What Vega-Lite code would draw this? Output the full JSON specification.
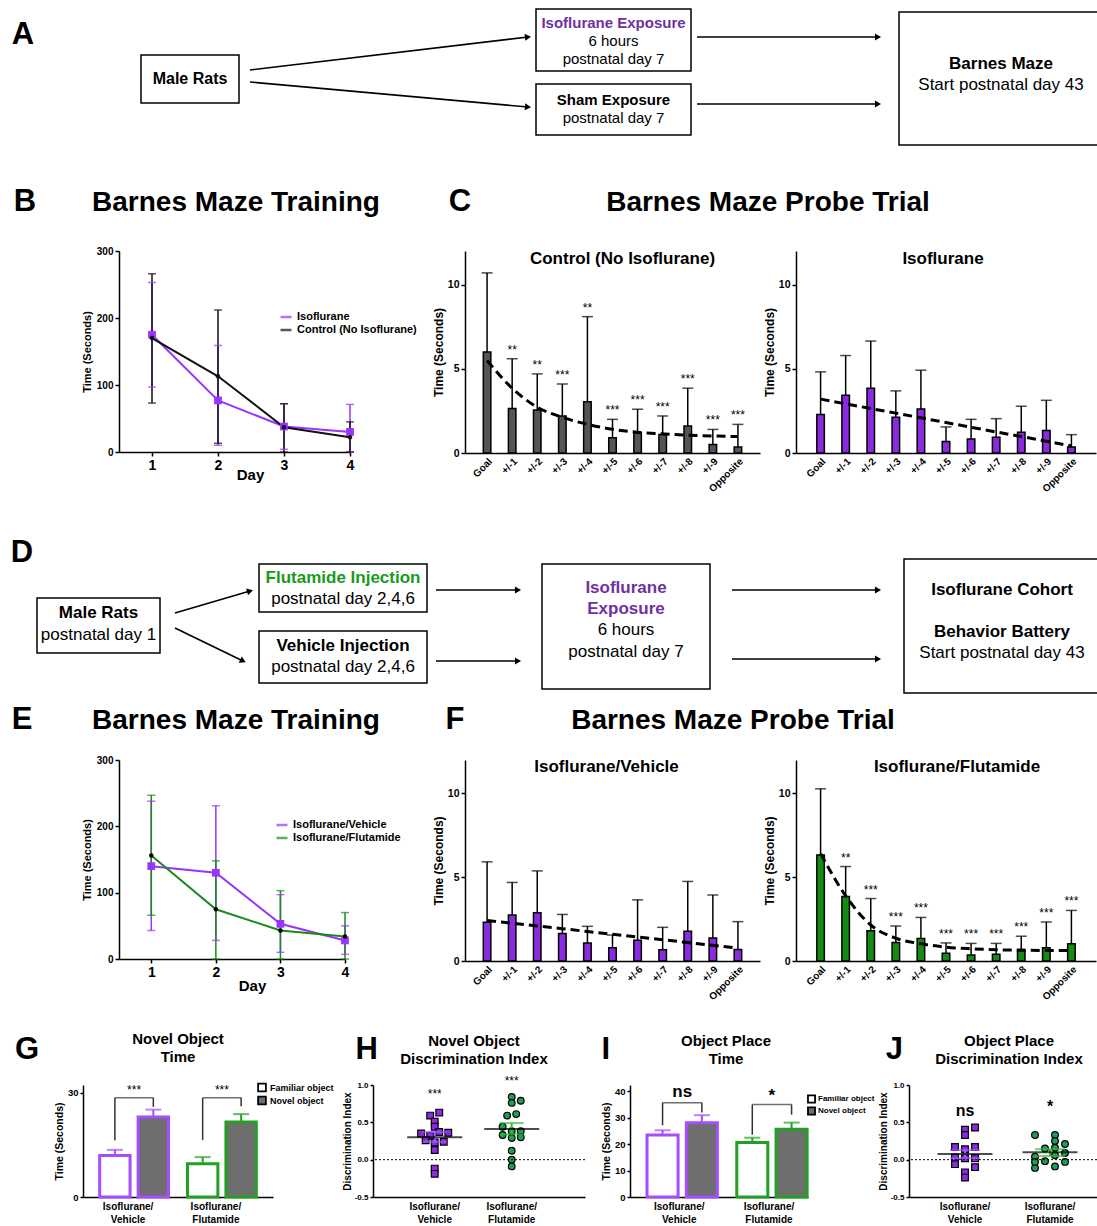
{
"$schema": "https://vega.github.io/schema/vega-lite/v6.json",
"background": "white",
"padding": 0,
"spacing": 0,
"resolve": {"scale": {"color":"independent","fill":"independent","stroke":"independent","shape":"independent","xOffset":"independent"}, "legend": {"color":"independent","fill":"independent","stroke":"independent","shape":"independent"}},
"config": {
  "font": "Liberation Sans",
  "view": {"stroke": null},
  "axis": {"grid": false, "domainColor": "black", "domainWidth": 1.5, "tickColor": "black", "tickWidth": 1.5, "tickSize": 4, "labelColor": "black", "titleColor": "black", "labelFontWeight": "bold", "titleFontWeight": "bold", "labelFlush": false, "labelFont": "Liberation Sans", "titleFont": "Liberation Sans"},
  "title": {"font": "Liberation Sans", "fontWeight": "bold", "color": "black", "frame": "group"},
  "legend": {"labelFont": "Liberation Sans", "labelFontWeight": "bold", "labelColor": "black"},
  "text": {"font": "Liberation Sans", "color": "black"}
},
"datasets": {
  "arrA": [{"x1":250,"y1":70,"x2":528,"y2":37},{"x1":250,"y1":82,"x2":528,"y2":107},{"x1":697,"y1":37,"x2":878,"y2":37},{"x1":697,"y1":104,"x2":878,"y2":104}],
  "arrD": [{"x1":175,"y1":107,"x2":250,"y2":85},{"x1":175,"y1":122,"x2":243,"y2":155},{"x1":436,"y1":84,"x2":518,"y2":84},{"x1":436,"y1":155,"x2":518,"y2":155},{"x1":732,"y1":84,"x2":878,"y2":84},{"x1":732,"y1":153,"x2":878,"y2":153}],
  "bdat": [
    {"day":1,"grp":"Isoflurane","mean":175,"lo":97,"hi":253},
    {"day":2,"grp":"Isoflurane","mean":77,"lo":10,"hi":159},
    {"day":3,"grp":"Isoflurane","mean":38,"lo":4,"hi":72},
    {"day":4,"grp":"Isoflurane","mean":30,"lo":0,"hi":71},
    {"day":1,"grp":"Control (No Isoflurane)","mean":170,"lo":73,"hi":266},
    {"day":2,"grp":"Control (No Isoflurane)","mean":113,"lo":13,"hi":212},
    {"day":3,"grp":"Control (No Isoflurane)","mean":37,"lo":0,"hi":72},
    {"day":4,"grp":"Control (No Isoflurane)","mean":22,"lo":0,"hi":45}
  ],
  "edat": [
    {"day":1,"grp":"Isoflurane/Vehicle","mean":140,"lo":43,"hi":238},
    {"day":2,"grp":"Isoflurane/Vehicle","mean":130,"lo":28,"hi":231},
    {"day":3,"grp":"Isoflurane/Vehicle","mean":53,"lo":10,"hi":97},
    {"day":4,"grp":"Isoflurane/Vehicle","mean":28,"lo":7,"hi":50},
    {"day":1,"grp":"Isoflurane/Flutamide","mean":156,"lo":66,"hi":247},
    {"day":2,"grp":"Isoflurane/Flutamide","mean":75,"lo":0,"hi":148},
    {"day":3,"grp":"Isoflurane/Flutamide","mean":43,"lo":0,"hi":103},
    {"day":4,"grp":"Isoflurane/Flutamide","mean":34,"lo":0,"hi":70}
  ],
  "c1": [
    {"pos":"Goal","mean":6.0,"err":10.7,"fit":5.5,"sig":""},
    {"pos":"+/-1","mean":2.65,"err":5.6,"fit":3.85,"sig":"**"},
    {"pos":"+/-2","mean":2.55,"err":4.7,"fit":2.72,"sig":"**"},
    {"pos":"+/-3","mean":2.2,"err":4.1,"fit":2.12,"sig":"***"},
    {"pos":"+/-4","mean":3.05,"err":8.1,"fit":1.7,"sig":"**"},
    {"pos":"+/-5","mean":0.9,"err":2.0,"fit":1.41,"sig":"***"},
    {"pos":"+/-6","mean":1.2,"err":2.6,"fit":1.23,"sig":"***"},
    {"pos":"+/-7","mean":1.1,"err":2.2,"fit":1.14,"sig":"***"},
    {"pos":"+/-8","mean":1.6,"err":3.85,"fit":1.06,"sig":"***"},
    {"pos":"+/-9","mean":0.5,"err":1.4,"fit":1.01,"sig":"***"},
    {"pos":"Opposite","mean":0.35,"err":1.7,"fit":0.98,"sig":"***"}
  ],
  "c2": [
    {"pos":"Goal","mean":2.28,"err":4.82,"fit":3.2},
    {"pos":"+/-1","mean":3.43,"err":5.79,"fit":2.92},
    {"pos":"+/-2","mean":3.85,"err":6.65,"fit":2.64},
    {"pos":"+/-3","mean":2.12,"err":3.69,"fit":2.37},
    {"pos":"+/-4","mean":2.62,"err":4.92,"fit":2.09},
    {"pos":"+/-5","mean":0.69,"err":1.55,"fit":1.81},
    {"pos":"+/-6","mean":0.83,"err":2.0,"fit":1.53},
    {"pos":"+/-7","mean":0.93,"err":2.04,"fit":1.25},
    {"pos":"+/-8","mean":1.23,"err":2.78,"fit":0.98},
    {"pos":"+/-9","mean":1.33,"err":3.13,"fit":0.7},
    {"pos":"Opposite","mean":0.36,"err":1.09,"fit":0.42}
  ],
  "f1": [
    {"pos":"Goal","mean":2.31,"err":5.92,"fit":2.42},
    {"pos":"+/-1","mean":2.74,"err":4.69,"fit":2.26},
    {"pos":"+/-2","mean":2.88,"err":5.38,"fit":2.09},
    {"pos":"+/-3","mean":1.64,"err":2.78,"fit":1.93},
    {"pos":"+/-4","mean":1.07,"err":2.07,"fit":1.76},
    {"pos":"+/-5","mean":0.79,"err":1.55,"fit":1.6},
    {"pos":"+/-6","mean":1.24,"err":3.65,"fit":1.43},
    {"pos":"+/-7","mean":0.67,"err":2.01,"fit":1.27},
    {"pos":"+/-8","mean":1.78,"err":4.75,"fit":1.1},
    {"pos":"+/-9","mean":1.38,"err":3.94,"fit":0.94},
    {"pos":"Opposite","mean":0.69,"err":2.35,"fit":0.77}
  ],
  "f2": [
    {"pos":"Goal","mean":6.33,"err":10.28,"fit":6.41,"sig":""},
    {"pos":"+/-1","mean":3.85,"err":5.64,"fit":3.89,"sig":"**"},
    {"pos":"+/-2","mean":1.81,"err":3.73,"fit":2.15,"sig":"***"},
    {"pos":"+/-3","mean":1.1,"err":2.09,"fit":1.36,"sig":"***"},
    {"pos":"+/-4","mean":1.34,"err":2.6,"fit":1.03,"sig":"***"},
    {"pos":"+/-5","mean":0.47,"err":1.08,"fit":0.83,"sig":"***"},
    {"pos":"+/-6","mean":0.36,"err":1.05,"fit":0.73,"sig":"***"},
    {"pos":"+/-7","mean":0.41,"err":1.05,"fit":0.67,"sig":"***"},
    {"pos":"+/-8","mean":0.59,"err":1.48,"fit":0.65,"sig":"***"},
    {"pos":"+/-9","mean":0.79,"err":2.33,"fit":0.63,"sig":"***"},
    {"pos":"Opposite","mean":1.03,"err":3.02,"fit":0.63,"sig":"***"}
  ],
  "gbar": [
    {"grp":"Isoflurane/Vehicle","obj":"Familiar object","mean":12.0,"hi":13.6},
    {"grp":"Isoflurane/Vehicle","obj":"Novel object","mean":23.1,"hi":25.2},
    {"grp":"Isoflurane/Flutamide","obj":"Familiar object","mean":9.6,"hi":11.5},
    {"grp":"Isoflurane/Flutamide","obj":"Novel object","mean":21.6,"hi":23.9}
  ],
  "gleg": [
    {"grp":"Isoflurane/Vehicle","obj":"Familiar object","lo":16.4,"top":28.6},
    {"grp":"Isoflurane/Vehicle","obj":"Novel object","lo":26.0,"top":28.6},
    {"grp":"Isoflurane/Flutamide","obj":"Familiar object","lo":16.4,"top":28.6},
    {"grp":"Isoflurane/Flutamide","obj":"Novel object","lo":26.2,"top":28.6}
  ],
  "gtop": [
    {"grp":"Isoflurane/Vehicle","top":28.6,"sy":30.9,"sig":"***"},
    {"grp":"Isoflurane/Flutamide","top":28.6,"sy":30.9,"sig":"***"}
  ],
  "ibar": [
    {"grp":"Isoflurane/Vehicle","obj":"Familiar object","mean":23.4,"hi":25.2},
    {"grp":"Isoflurane/Vehicle","obj":"Novel object","mean":28.0,"hi":30.9},
    {"grp":"Isoflurane/Flutamide","obj":"Familiar object","mean":20.6,"hi":22.4},
    {"grp":"Isoflurane/Flutamide","obj":"Novel object","mean":25.6,"hi":28.1}
  ],
  "ileg": [
    {"grp":"Isoflurane/Vehicle","obj":"Familiar object","lo":27.1,"top":35.6},
    {"grp":"Isoflurane/Vehicle","obj":"Novel object","lo":31.9,"top":35.6},
    {"grp":"Isoflurane/Flutamide","obj":"Familiar object","lo":23.5,"top":34.9},
    {"grp":"Isoflurane/Flutamide","obj":"Novel object","lo":31.1,"top":34.9}
  ],
  "itop": [
    {"grp":"Isoflurane/Vehicle","top":35.6,"sy":39.6,"sig":"ns"},
    {"grp":"Isoflurane/Flutamide","top":34.9,"sy":38.0,"sig":"*"}
  ],
  "hpts": [
    {"grp":"Isoflurane/Vehicle","slot":1,"v":0.63},{"grp":"Isoflurane/Vehicle","slot":-1,"v":0.59},{"grp":"Isoflurane/Vehicle","slot":0,"v":0.51},{"grp":"Isoflurane/Vehicle","slot":0,"v":0.44},{"grp":"Isoflurane/Vehicle","slot":-3,"v":0.35},{"grp":"Isoflurane/Vehicle","slot":3,"v":0.36},{"grp":"Isoflurane/Vehicle","slot":1,"v":0.37},{"grp":"Isoflurane/Vehicle","slot":-1,"v":0.32},{"grp":"Isoflurane/Vehicle","slot":-2,"v":0.26},{"grp":"Isoflurane/Vehicle","slot":2,"v":0.24},{"grp":"Isoflurane/Vehicle","slot":0,"v":0.23},{"grp":"Isoflurane/Vehicle","slot":0,"v":0.13},{"grp":"Isoflurane/Vehicle","slot":0,"v":-0.12},{"grp":"Isoflurane/Vehicle","slot":0,"v":-0.19},
    {"grp":"Isoflurane/Flutamide","slot":0,"v":0.84},{"grp":"Isoflurane/Flutamide","slot":0,"v":0.76},{"grp":"Isoflurane/Flutamide","slot":2,"v":0.79},{"grp":"Isoflurane/Flutamide","slot":-1,"v":0.59},{"grp":"Isoflurane/Flutamide","slot":1,"v":0.61},{"grp":"Isoflurane/Flutamide","slot":-2,"v":0.44},{"grp":"Isoflurane/Flutamide","slot":0,"v":0.38},{"grp":"Isoflurane/Flutamide","slot":2,"v":0.38},{"grp":"Isoflurane/Flutamide","slot":-2,"v":0.33},{"grp":"Isoflurane/Flutamide","slot":2,"v":0.3},{"grp":"Isoflurane/Flutamide","slot":0,"v":0.29},{"grp":"Isoflurane/Flutamide","slot":0,"v":0.12},{"grp":"Isoflurane/Flutamide","slot":0,"v":0.0},{"grp":"Isoflurane/Flutamide","slot":0,"v":-0.09}
  ],
  "hsum": [
    {"grp":"Isoflurane/Vehicle","mean":0.30,"lo":0.24,"hi":0.37,"sy":0.875,"sig":"***"},
    {"grp":"Isoflurane/Flutamide","mean":0.41,"lo":0.34,"hi":0.49,"sy":1.055,"sig":"***"}
  ],
  "jpts": [
    {"grp":"Isoflurane/Vehicle","slot":2,"v":0.43},{"grp":"Isoflurane/Vehicle","slot":0,"v":0.40},{"grp":"Isoflurane/Vehicle","slot":0,"v":0.33},{"grp":"Isoflurane/Vehicle","slot":-2,"v":0.17},{"grp":"Isoflurane/Vehicle","slot":2,"v":0.17},{"grp":"Isoflurane/Vehicle","slot":0,"v":0.14},{"grp":"Isoflurane/Vehicle","slot":-2,"v":0.03},{"grp":"Isoflurane/Vehicle","slot":0,"v":0.02},{"grp":"Isoflurane/Vehicle","slot":2,"v":0.02},{"grp":"Isoflurane/Vehicle","slot":-2,"v":-0.06},{"grp":"Isoflurane/Vehicle","slot":2,"v":-0.10},{"grp":"Isoflurane/Vehicle","slot":0,"v":-0.17},{"grp":"Isoflurane/Vehicle","slot":0,"v":-0.24},
    {"grp":"Isoflurane/Flutamide","slot":-3,"v":0.33},{"grp":"Isoflurane/Flutamide","slot":1,"v":0.33},{"grp":"Isoflurane/Flutamide","slot":1,"v":0.25},{"grp":"Isoflurane/Flutamide","slot":-1,"v":0.15},{"grp":"Isoflurane/Flutamide","slot":3,"v":0.21},{"grp":"Isoflurane/Flutamide","slot":1,"v":0.16},{"grp":"Isoflurane/Flutamide","slot":-3,"v":0.04},{"grp":"Isoflurane/Flutamide","slot":3,"v":0.09},{"grp":"Isoflurane/Flutamide","slot":1,"v":0.06},{"grp":"Isoflurane/Flutamide","slot":-1,"v":-0.02},{"grp":"Isoflurane/Flutamide","slot":-3,"v":-0.11},{"grp":"Isoflurane/Flutamide","slot":1,"v":-0.09},{"grp":"Isoflurane/Flutamide","slot":3,"v":-0.03},{"grp":"Isoflurane/Flutamide","slot":-3,"v":-0.03}
  ],
  "jsum": [
    {"grp":"Isoflurane/Vehicle","mean":0.075,"lo":0.02,"hi":0.13,"sy":0.65,"sig":"ns"},
    {"grp":"Isoflurane/Flutamide","mean":0.10,"lo":0.05,"hi":0.14,"sy":0.70,"sig":"*"}
  ]
},
"vconcat": [
 {
  "width": 1097, "height": 245,
  "layer": [
   {"data": {"values": [{"x1":141,"y1":55,"x2":239,"y2":103},{"x1":536,"y1":9,"x2":691,"y2":71},{"x1":536,"y1":84,"x2":691,"y2":135},{"x1":899,"y1":12,"x2":1110,"y2":145}]},
    "mark": {"type":"rect","fill":"white","stroke":"black","strokeWidth":1.5,"clip":true},
    "encoding": {"x":{"field":"x1","type":"quantitative","scale":{"domain":[0,1097],"nice":false,"zero":false},"axis":null},"x2":{"field":"x2"},"y":{"field":"y1","type":"quantitative","scale":{"domain":[0,245],"nice":false,"zero":false,"reverse":true},"axis":null},"y2":{"field":"y2"}}},
   {"data": {"name":"arrA"},
    "mark": {"type":"rule","color":"black","strokeWidth":1.6},
    "encoding": {"x":{"field":"x1","type":"quantitative","scale":{"domain":[0,1097],"nice":false,"zero":false},"axis":null},"x2":{"field":"x2"},"y":{"field":"y1","type":"quantitative","scale":{"domain":[0,245],"nice":false,"zero":false,"reverse":true},"axis":null},"y2":{"field":"y2"}}},
   {"data": {"name":"arrA"},
    "mark": {"type":"point","shape":"triangle-right","filled":true,"color":"black","opacity":1,"size":50,"angle":{"expr":"atan2(datum.y2 - datum.y1, datum.x2 - datum.x1) * 180 / PI"}},
    "encoding": {"x":{"field":"x2","type":"quantitative","scale":{"domain":[0,1097],"nice":false,"zero":false},"axis":null},"y":{"field":"y2","type":"quantitative","scale":{"domain":[0,245],"nice":false,"zero":false,"reverse":true},"axis":null}}},
   {"data": {"values": [{"x":190,"y":79,"t":"Male Rats"}]},
    "mark": {"type":"text","fontSize":16,"fontWeight":"bold","align":"center","baseline":"middle"},
    "encoding": {"x":{"field":"x","type":"quantitative","scale":{"domain":[0,1097],"nice":false,"zero":false},"axis":null},"y":{"field":"y","type":"quantitative","scale":{"domain":[0,245],"nice":false,"zero":false,"reverse":true},"axis":null},"text":{"field":"t"}}},
   {"data": {"values": [{"x":613.5,"y":100,"t":"Sham Exposure"}]},
    "mark": {"type":"text","fontSize":15,"fontWeight":"bold","align":"center","baseline":"middle"},
    "encoding": {"x":{"field":"x","type":"quantitative","scale":{"domain":[0,1097],"nice":false,"zero":false},"axis":null},"y":{"field":"y","type":"quantitative","scale":{"domain":[0,245],"nice":false,"zero":false,"reverse":true},"axis":null},"text":{"field":"t"}}},
   {"data": {"values": [{"x":613.5,"y":23,"t":"Isoflurane Exposure"}]},
    "mark": {"type":"text","fontSize":15,"fontWeight":"bold","align":"center","baseline":"middle","color":"#7030a0"},
    "encoding": {"x":{"field":"x","type":"quantitative","scale":{"domain":[0,1097],"nice":false,"zero":false},"axis":null},"y":{"field":"y","type":"quantitative","scale":{"domain":[0,245],"nice":false,"zero":false,"reverse":true},"axis":null},"text":{"field":"t"}}},
   {"data": {"values": [{"x":613.5,"y":41,"t":"6 hours"},{"x":613.5,"y":59,"t":"postnatal day 7"},{"x":613.5,"y":118,"t":"postnatal day 7"}]},
    "mark": {"type":"text","fontSize":15,"align":"center","baseline":"middle"},
    "encoding": {"x":{"field":"x","type":"quantitative","scale":{"domain":[0,1097],"nice":false,"zero":false},"axis":null},"y":{"field":"y","type":"quantitative","scale":{"domain":[0,245],"nice":false,"zero":false,"reverse":true},"axis":null},"text":{"field":"t"}}},
   {"data": {"values": [{"x":1001,"y":64,"t":"Barnes Maze"}]},
    "mark": {"type":"text","fontSize":17,"fontWeight":"bold","align":"center","baseline":"middle"},
    "encoding": {"x":{"field":"x","type":"quantitative","scale":{"domain":[0,1097],"nice":false,"zero":false},"axis":null},"y":{"field":"y","type":"quantitative","scale":{"domain":[0,245],"nice":false,"zero":false,"reverse":true},"axis":null},"text":{"field":"t"}}},
   {"data": {"values": [{"x":1001,"y":85,"t":"Start postnatal day 43"}]},
    "mark": {"type":"text","fontSize":17,"align":"center","baseline":"middle"},
    "encoding": {"x":{"field":"x","type":"quantitative","scale":{"domain":[0,1097],"nice":false,"zero":false},"axis":null},"y":{"field":"y","type":"quantitative","scale":{"domain":[0,245],"nice":false,"zero":false,"reverse":true},"axis":null},"text":{"field":"t"}}},
   {"data": {"values": [{"x":236,"y":203,"t":"Barnes Maze Training"},{"x":768,"y":203,"t":"Barnes Maze Probe Trial"}]},
    "mark": {"type":"text","fontSize":28,"fontWeight":"bold","align":"center","baseline":"middle"},
    "encoding": {"x":{"field":"x","type":"quantitative","scale":{"domain":[0,1097],"nice":false,"zero":false},"axis":null},"y":{"field":"y","type":"quantitative","scale":{"domain":[0,245],"nice":false,"zero":false,"reverse":true},"axis":null},"text":{"field":"t"}}},
   {"data": {"values": [{"x":23,"y":35,"t":"A"},{"x":25,"y":202,"t":"B"},{"x":460,"y":202,"t":"C"}]},
    "mark": {"type":"text","fontSize":31,"fontWeight":"bold","align":"center","baseline":"middle"},
    "encoding": {"x":{"field":"x","type":"quantitative","scale":{"domain":[0,1097],"nice":false,"zero":false},"axis":null},"y":{"field":"y","type":"quantitative","scale":{"domain":[0,245],"nice":false,"zero":false,"reverse":true},"axis":null},"text":{"field":"t"}}}
  ]
 },
 {
  "spacing": 0, "bounds": "flush",
  "resolve": {"scale": {"color":"independent","fill":"independent","stroke":"independent","shape":"independent","xOffset":"independent"}, "legend": {"color":"independent","fill":"independent","stroke":"independent","shape":"independent"}},
  "hconcat": [
   {"width": 119, "height": 255, "data": {"values": [{"k":0}]}, "mark": {"type":"text","text":" "}, "encoding": {}},
   {
    "width": 231, "height": 201,
    "data": {"name":"bdat"},
    "encoding": {
      "x": {"field":"day","type":"quantitative","scale":{"domain":[0.5,4],"nice":false,"zero":false},"axis":{"values":[1,2,3,4],"format":"d","title":"Day","labelFontSize":14,"titleFontSize":15,"titleX":131,"titleY":22,"titleAlign":"center","titleBaseline":"middle","labelPadding":2}},
      "color": {"field":"grp","type":"nominal","scale":{"domain":["Isoflurane","Control (No Isoflurane)"],"range":["#9933ff","#111111"]},"legend":{"orient":"none","legendX":160,"legendY":59,"title":null,"labelFontSize":11,"symbolType":"stroke","symbolStrokeWidth":2.5,"symbolSize":120,"rowPadding":1}}
    },
    "layer": [
     {"mark": {"type":"rule","strokeWidth":1.5}, "encoding": {"y":{"field":"lo","type":"quantitative","scale":{"domain":[0,300],"nice":false},"axis":{"values":[0,100,200,300],"title":"Time (Seconds)","labelFontSize":10,"titleFontSize":11,"titlePadding":4,"labelPadding":2}},"y2":{"field":"hi"}}},
     {"mark": {"type":"tick","orient":"horizontal","size":8,"thickness":1.5}, "encoding": {"y":{"field":"hi","type":"quantitative"}}},
     {"mark": {"type":"tick","orient":"horizontal","size":8,"thickness":1.5}, "encoding": {"y":{"field":"lo","type":"quantitative"}}},
     {"mark": {"type":"line","strokeWidth":2}, "encoding": {"y":{"field":"mean","type":"quantitative"}}},
     {"transform": [{"filter":"datum.grp === 'Isoflurane'"}], "mark": {"type":"square","size":60,"opacity":1}, "encoding": {"y":{"field":"mean","type":"quantitative"}}},
     {"transform": [{"filter":"datum.grp !== 'Isoflurane'"}], "mark": {"type":"circle","size":20,"opacity":1}, "encoding": {"y":{"field":"mean","type":"quantitative"}}}
    ]
   },
   {"width": 115, "height": 1, "data": {"values": [{"k":0}]}, "mark": {"type":"text","text":" "}, "encoding": {}},
   {
    "width": 295, "height": 202,
    "title": {"text":"Control (No Isoflurane)","fontSize":17,"offset":-17,"dx":10},
    "data": {"name":"c1"},
    "encoding": {"x": {"field":"pos","type":"nominal","scale":{"domain":["Goal","+/-1","+/-2","+/-3","+/-4","+/-5","+/-6","+/-7","+/-8","+/-9","Opposite"],"paddingInner":0.7,"paddingOuter":0.73},"axis":{"title":null,"labelAngle":-45,"labelFontSize":10,"ticks":false,"labelPadding":3}}},
    "layer": [
     {"mark": {"type":"rule","strokeWidth":1.5,"color":"black"}, "encoding": {"y":{"field":"mean","type":"quantitative","scale":{"domain":[0,12],"nice":false},"axis":{"values":[0,5,10],"title":"Time (Seconds)","labelFontSize":10.5,"titleFontSize":12,"titlePadding":2}},"y2":{"field":"err"}}},
     {"mark": {"type":"tick","orient":"horizontal","size":11,"thickness":1.5,"color":"black"}, "encoding": {"y":{"field":"err","type":"quantitative"}}},
     {"mark": {"type":"bar","fill":"#555555","stroke":"black","strokeWidth":1.5}, "encoding": {"y":{"field":"mean","type":"quantitative"}}},
     {"mark": {"type":"line","color":"black","strokeWidth":3,"strokeDash":[9,5],"interpolate":"monotone"}, "encoding": {"y":{"field":"fit","type":"quantitative"}}},
     {"mark": {"type":"text","fontSize":12,"baseline":"bottom","dy":-2}, "encoding": {"y":{"field":"err","type":"quantitative"},"text":{"field":"sig"}}}
    ]
   },
   {"width": 36, "height": 1, "data": {"values": [{"k":0}]}, "mark": {"type":"text","text":" "}, "encoding": {}},
   {
    "width": 300, "height": 202,
    "title": {"text":"Isoflurane","fontSize":17,"offset":-17,"dx":-3},
    "data": {"name":"c2"},
    "encoding": {"x": {"field":"pos","type":"nominal","scale":{"domain":["Goal","+/-1","+/-2","+/-3","+/-4","+/-5","+/-6","+/-7","+/-8","+/-9","Opposite"],"paddingInner":0.7,"paddingOuter":0.83},"axis":{"title":null,"labelAngle":-45,"labelFontSize":10,"ticks":false,"labelPadding":3}}},
    "layer": [
     {"mark": {"type":"rule","strokeWidth":1.5,"color":"black"}, "encoding": {"y":{"field":"mean","type":"quantitative","scale":{"domain":[0,12],"nice":false},"axis":{"values":[0,5,10],"title":"Time (Seconds)","labelFontSize":10.5,"titleFontSize":12,"titlePadding":2}},"y2":{"field":"err"}}},
     {"mark": {"type":"tick","orient":"horizontal","size":11,"thickness":1.5,"color":"black"}, "encoding": {"y":{"field":"err","type":"quantitative"}}},
     {"mark": {"type":"bar","fill":"#8a2be2","stroke":"black","strokeWidth":1.5}, "encoding": {"y":{"field":"mean","type":"quantitative"}}},
     {"mark": {"type":"line","color":"black","strokeWidth":3,"strokeDash":[9,5]}, "encoding": {"y":{"field":"fit","type":"quantitative"}}}
    ]
   }
  ]
 },
 {
  "width": 1097, "height": 248,
  "layer": [
   {"data": {"values": [{"x1":37,"y1":92,"x2":160,"y2":147},{"x1":259,"y1":58,"x2":427,"y2":106},{"x1":259,"y1":125,"x2":427,"y2":177},{"x1":542,"y1":58,"x2":710,"y2":183},{"x1":904,"y1":53,"x2":1110,"y2":187}]},
    "mark": {"type":"rect","fill":"white","stroke":"black","strokeWidth":1.5,"clip":true},
    "encoding": {"x":{"field":"x1","type":"quantitative","scale":{"domain":[0,1097],"nice":false,"zero":false},"axis":null},"x2":{"field":"x2"},"y":{"field":"y1","type":"quantitative","scale":{"domain":[0,248],"nice":false,"zero":false,"reverse":true},"axis":null},"y2":{"field":"y2"}}},
   {"data": {"name":"arrD"},
    "mark": {"type":"rule","color":"black","strokeWidth":1.6},
    "encoding": {"x":{"field":"x1","type":"quantitative","scale":{"domain":[0,1097],"nice":false,"zero":false},"axis":null},"x2":{"field":"x2"},"y":{"field":"y1","type":"quantitative","scale":{"domain":[0,248],"nice":false,"zero":false,"reverse":true},"axis":null},"y2":{"field":"y2"}}},
   {"data": {"name":"arrD"},
    "mark": {"type":"point","shape":"triangle-right","filled":true,"color":"black","opacity":1,"size":50,"angle":{"expr":"atan2(datum.y2 - datum.y1, datum.x2 - datum.x1) * 180 / PI"}},
    "encoding": {"x":{"field":"x2","type":"quantitative","scale":{"domain":[0,1097],"nice":false,"zero":false},"axis":null},"y":{"field":"y2","type":"quantitative","scale":{"domain":[0,248],"nice":false,"zero":false,"reverse":true},"axis":null}}},
   {"data": {"values": [{"x":98.5,"y":107,"t":"Male Rats"},{"x":343,"y":140,"t":"Vehicle Injection"},{"x":1002,"y":84,"t":"Isoflurane Cohort"},{"x":1002,"y":126,"t":"Behavior Battery"}]},
    "mark": {"type":"text","fontSize":17,"fontWeight":"bold","align":"center","baseline":"middle"},
    "encoding": {"x":{"field":"x","type":"quantitative","scale":{"domain":[0,1097],"nice":false,"zero":false},"axis":null},"y":{"field":"y","type":"quantitative","scale":{"domain":[0,248],"nice":false,"zero":false,"reverse":true},"axis":null},"text":{"field":"t"}}},
   {"data": {"values": [{"x":98.5,"y":129,"t":"postnatal day 1"},{"x":343,"y":93,"t":"postnatal day 2,4,6"},{"x":343,"y":161,"t":"postnatal day 2,4,6"},{"x":626,"y":124,"t":"6 hours"},{"x":626,"y":146,"t":"postnatal day 7"},{"x":1002,"y":147,"t":"Start postnatal day 43"}]},
    "mark": {"type":"text","fontSize":17,"align":"center","baseline":"middle"},
    "encoding": {"x":{"field":"x","type":"quantitative","scale":{"domain":[0,1097],"nice":false,"zero":false},"axis":null},"y":{"field":"y","type":"quantitative","scale":{"domain":[0,248],"nice":false,"zero":false,"reverse":true},"axis":null},"text":{"field":"t"}}},
   {"data": {"values": [{"x":343,"y":72,"t":"Flutamide Injection"}]},
    "mark": {"type":"text","fontSize":17,"fontWeight":"bold","align":"center","baseline":"middle","color":"#1a9a1a"},
    "encoding": {"x":{"field":"x","type":"quantitative","scale":{"domain":[0,1097],"nice":false,"zero":false},"axis":null},"y":{"field":"y","type":"quantitative","scale":{"domain":[0,248],"nice":false,"zero":false,"reverse":true},"axis":null},"text":{"field":"t"}}},
   {"data": {"values": [{"x":626,"y":82,"t":"Isoflurane"},{"x":626,"y":103,"t":"Exposure"}]},
    "mark": {"type":"text","fontSize":17,"fontWeight":"bold","align":"center","baseline":"middle","color":"#7030a0"},
    "encoding": {"x":{"field":"x","type":"quantitative","scale":{"domain":[0,1097],"nice":false,"zero":false},"axis":null},"y":{"field":"y","type":"quantitative","scale":{"domain":[0,248],"nice":false,"zero":false,"reverse":true},"axis":null},"text":{"field":"t"}}},
   {"data": {"values": [{"x":236,"y":215,"t":"Barnes Maze Training"},{"x":733,"y":215,"t":"Barnes Maze Probe Trial"}]},
    "mark": {"type":"text","fontSize":28,"fontWeight":"bold","align":"center","baseline":"middle"},
    "encoding": {"x":{"field":"x","type":"quantitative","scale":{"domain":[0,1097],"nice":false,"zero":false},"axis":null},"y":{"field":"y","type":"quantitative","scale":{"domain":[0,248],"nice":false,"zero":false,"reverse":true},"axis":null},"text":{"field":"t"}}},
   {"data": {"values": [{"x":22,"y":47,"t":"D"},{"x":22,"y":214,"t":"E"},{"x":455,"y":214,"t":"F"}]},
    "mark": {"type":"text","fontSize":31,"fontWeight":"bold","align":"center","baseline":"middle"},
    "encoding": {"x":{"field":"x","type":"quantitative","scale":{"domain":[0,1097],"nice":false,"zero":false},"axis":null},"y":{"field":"y","type":"quantitative","scale":{"domain":[0,248],"nice":false,"zero":false,"reverse":true},"axis":null},"text":{"field":"t"}}}
  ]
 },
 {
  "spacing": 0, "bounds": "flush",
  "resolve": {"scale": {"color":"independent","fill":"independent","stroke":"independent","shape":"independent","xOffset":"independent"}, "legend": {"color":"independent","fill":"independent","stroke":"independent","shape":"independent"}},
  "hconcat": [
   {"width": 119, "height": 272, "data": {"values": [{"k":0}]}, "mark": {"type":"text","text":" "}, "encoding": {}},
   {
    "width": 226, "height": 199,
    "data": {"name":"edat"},
    "encoding": {
      "x": {"field":"day","type":"quantitative","scale":{"domain":[0.5,4],"nice":false,"zero":false},"axis":{"values":[1,2,3,4],"format":"d","title":"Day","labelFontSize":14,"titleFontSize":15,"titleX":133,"titleY":26,"titleAlign":"center","titleBaseline":"middle","labelPadding":2}},
      "color": {"field":"grp","type":"nominal","scale":{"domain":["Isoflurane/Vehicle","Isoflurane/Flutamide"],"range":["#9933ff","#1b8a1b"]},"legend":{"orient":"none","legendX":156,"legendY":58,"title":null,"labelFontSize":11,"symbolType":"stroke","symbolStrokeWidth":2.5,"symbolSize":120,"rowPadding":1}}
    },
    "layer": [
     {"mark": {"type":"rule","strokeWidth":1.5}, "encoding": {"y":{"field":"lo","type":"quantitative","scale":{"domain":[0,300],"nice":false},"axis":{"values":[0,100,200,300],"title":"Time (Seconds)","labelFontSize":10,"titleFontSize":11,"titlePadding":4,"labelPadding":2}},"y2":{"field":"hi"}}},
     {"mark": {"type":"tick","orient":"horizontal","size":8,"thickness":1.5}, "encoding": {"y":{"field":"hi","type":"quantitative"}}},
     {"mark": {"type":"tick","orient":"horizontal","size":8,"thickness":1.5}, "encoding": {"y":{"field":"lo","type":"quantitative"}}},
     {"mark": {"type":"line","strokeWidth":2}, "encoding": {"y":{"field":"mean","type":"quantitative"}}},
     {"transform": [{"filter":"datum.grp === 'Isoflurane/Vehicle'"}], "mark": {"type":"square","size":60,"opacity":1}, "encoding": {"y":{"field":"mean","type":"quantitative"}}},
     {"transform": [{"filter":"datum.grp === 'Isoflurane/Flutamide'"}], "mark": {"type":"circle","size":20,"opacity":1,"color":"black"}, "encoding": {"y":{"field":"mean","type":"quantitative"},"color":{"value":"black"}}}
    ]
   },
   {"width": 120, "height": 1, "data": {"values": [{"k":0}]}, "mark": {"type":"text","text":" "}, "encoding": {}},
   {
    "width": 295, "height": 201,
    "title": {"text":"Isoflurane/Vehicle","fontSize":17,"offset":-16,"dx":-6},
    "data": {"name":"f1"},
    "encoding": {"x": {"field":"pos","type":"nominal","scale":{"domain":["Goal","+/-1","+/-2","+/-3","+/-4","+/-5","+/-6","+/-7","+/-8","+/-9","Opposite"],"paddingInner":0.7,"paddingOuter":0.73},"axis":{"title":null,"labelAngle":-45,"labelFontSize":10,"ticks":false,"labelPadding":3}}},
    "layer": [
     {"mark": {"type":"rule","strokeWidth":1.5,"color":"black"}, "encoding": {"y":{"field":"mean","type":"quantitative","scale":{"domain":[0,12],"nice":false},"axis":{"values":[0,5,10],"title":"Time (Seconds)","labelFontSize":10.5,"titleFontSize":12,"titlePadding":2}},"y2":{"field":"err"}}},
     {"mark": {"type":"tick","orient":"horizontal","size":11,"thickness":1.5,"color":"black"}, "encoding": {"y":{"field":"err","type":"quantitative"}}},
     {"mark": {"type":"bar","fill":"#8a2be2","stroke":"black","strokeWidth":1.5}, "encoding": {"y":{"field":"mean","type":"quantitative"}}},
     {"mark": {"type":"line","color":"black","strokeWidth":3,"strokeDash":[9,5]}, "encoding": {"y":{"field":"fit","type":"quantitative"}}}
    ]
   },
   {"width": 36, "height": 1, "data": {"values": [{"k":0}]}, "mark": {"type":"text","text":" "}, "encoding": {}},
   {
    "width": 300, "height": 201,
    "title": {"text":"Isoflurane/Flutamide","fontSize":17,"offset":-16,"dx":11},
    "data": {"name":"f2"},
    "encoding": {"x": {"field":"pos","type":"nominal","scale":{"domain":["Goal","+/-1","+/-2","+/-3","+/-4","+/-5","+/-6","+/-7","+/-8","+/-9","Opposite"],"paddingInner":0.7,"paddingOuter":0.83},"axis":{"title":null,"labelAngle":-45,"labelFontSize":10,"ticks":false,"labelPadding":3}}},
    "layer": [
     {"mark": {"type":"rule","strokeWidth":1.5,"color":"black"}, "encoding": {"y":{"field":"mean","type":"quantitative","scale":{"domain":[0,12],"nice":false},"axis":{"values":[0,5,10],"title":"Time (Seconds)","labelFontSize":10.5,"titleFontSize":12,"titlePadding":2}},"y2":{"field":"err"}}},
     {"mark": {"type":"tick","orient":"horizontal","size":11,"thickness":1.5,"color":"black"}, "encoding": {"y":{"field":"err","type":"quantitative"}}},
     {"mark": {"type":"bar","fill":"#148c14","stroke":"black","strokeWidth":1.5}, "encoding": {"y":{"field":"mean","type":"quantitative"}}},
     {"mark": {"type":"line","color":"black","strokeWidth":3,"strokeDash":[9,5],"interpolate":"monotone"}, "encoding": {"y":{"field":"fit","type":"quantitative"}}},
     {"mark": {"type":"text","fontSize":12,"baseline":"bottom","dy":-2}, "encoding": {"y":{"field":"err","type":"quantitative"},"text":{"field":"sig"}}}
    ]
   }
  ]
 },
 {
  "spacing": 0, "bounds": "flush",
  "resolve": {"scale": {"color":"independent","fill":"independent","stroke":"independent","shape":"independent","xOffset":"independent"}, "legend": {"color":"independent","fill":"independent","stroke":"independent","shape":"independent"}},
  "hconcat": [
   {"width": 83, "height": 1, "title": {"text":"G","fontSize":31,"anchor":"start","dx":15,"offset":14}, "data": {"values": [{"k":0}]}, "mark": {"type":"text","text":" "}, "encoding": {}},
   {
    "width": 190, "height": 112,
    "title": {"text":["Novel Object","Time"],"fontSize":15,"lineHeight":18,"offset":17},
    "layer": [
     {"data": {"name":"gbar"}, "mark": {"type":"bar","strokeWidth":3},
      "encoding": {
       "x": {"field":"grp","type":"nominal","scale":{"type":"band","domain":["Isoflurane/Vehicle","Isoflurane/Flutamide"],"paddingInner":0.216,"paddingOuter":0.19},"axis":{"title":null,"ticks":false,"labelAngle":0,"labelOverlap":false,"labelFontSize":10,"labelLineHeight":13,"labelPadding":4,"labelOffset":-6,"labelExpr":"['Isoflurane/', substring(datum.label, 11)]"}},
       "xOffset": {"field":"obj","type":"nominal","scale":{"type":"band","domain":["Familiar object","Novel object"],"paddingInner":0.21,"paddingOuter":0}},
       "y": {"field":"mean","type":"quantitative","scale":{"domain":[0,32.3],"nice":false},"axis":{"values":[0,10,20,30],"labelOverlap":false,"title":"Time (Seconds)","labelFontSize":9.5,"titleFontSize":10.5,"tickSize":3,"titlePadding":3}},
       "fill": {"field":"obj","type":"nominal","scale":{"domain":["Familiar object","Novel object"],"range":["#ffffff","#6e6e6e"]},"legend":{"orient":"none","legendX":174,"legendY":-3,"title":null,"symbolType":"square","symbolSize":60,"symbolStrokeColor":"black","symbolStrokeWidth":1.8,"labelFontSize":9,"labelOffset":3,"rowPadding":2,"clipHeight":11}},
       "stroke": {"field":"grp","type":"nominal","scale":{"domain":["Isoflurane/Vehicle","Isoflurane/Flutamide"],"range":["#a64dff","#22a022"]},"legend":null}
      }},
     {"data": {"name":"gbar"}, "mark": {"type":"rule","strokeWidth":2},
      "encoding": {"x":{"field":"grp","type":"nominal"},"xOffset":{"field":"obj","type":"nominal"},"y":{"field":"mean","type":"quantitative"},"y2":{"field":"hi"},"stroke":{"field":"grp","type":"nominal","legend":null}}},
     {"data": {"name":"gbar"}, "mark": {"type":"tick","orient":"horizontal","size":16,"thickness":2},
      "encoding": {"x":{"field":"grp","type":"nominal"},"xOffset":{"field":"obj","type":"nominal"},"y":{"field":"hi","type":"quantitative"},"color":{"field":"grp","type":"nominal","scale":{"domain":["Isoflurane/Vehicle","Isoflurane/Flutamide"],"range":["#a64dff","#22a022"]},"legend":null}}},
     {"data": {"name":"gleg"}, "mark": {"type":"rule","color":"#333333","strokeWidth":1.5},
      "encoding": {"x":{"field":"grp","type":"nominal"},"xOffset":{"field":"obj","type":"nominal"},"y":{"field":"lo","type":"quantitative"},"y2":{"field":"top"}}},
     {"data": {"name":"gtop"}, "mark": {"type":"tick","orient":"horizontal","size":38.4,"thickness":1.5,"color":"#333333"},
      "encoding": {"x":{"field":"grp","type":"nominal"},"y":{"field":"top","type":"quantitative"}}},
     {"data": {"name":"gtop"}, "mark": {"type":"text","fontSize":12,"baseline":"middle"},
      "encoding": {"x":{"field":"grp","type":"nominal"},"y":{"field":"sy","type":"quantitative"},"text":{"field":"sig"}}}
    ]
   },
   {"width": 100, "height": 1, "title": {"text":"H","fontSize":31,"anchor":"end","dx":5,"offset":14}, "data": {"values": [{"k":0}]}, "mark": {"type":"text","text":" "}, "encoding": {}},
   {
    "width": 212, "height": 112,
    "title": {"text":["Novel Object","Discrimination Index"],"fontSize":15,"lineHeight":18,"offset":8,"dx":-5},
    "layer": [
     {"data": {"name":"hpts"}, "mark": {"type":"point","filled":true,"opacity":1,"size":45,"stroke":"black","strokeWidth":1.2},
      "encoding": {
       "x": {"field":"grp","type":"nominal","scale":{"type":"band","domain":["Isoflurane/Vehicle","Isoflurane/Flutamide"],"paddingInner":0,"paddingOuter":0.377,"align":0.4},"axis":{"title":null,"ticks":false,"labelAngle":0,"labelOverlap":false,"labelFontSize":10,"labelLineHeight":13,"labelPadding":4,"labelExpr":"['Isoflurane/', substring(datum.label, 11)]"}},
       "xOffset": {"field":"slot","type":"ordinal","scale":{"type":"point","domain":[-8,-7,-6,-5,-4,-3,-2,-1,0,1,2,3,4,5,6,7,8]}},
       "y": {"field":"v","type":"quantitative","scale":{"domain":[-0.5,1],"nice":false,"zero":false},"axis":{"values":[-0.5,0,0.5,1],"tickCount":4,"labelOverlap":false,"labelBound":false,"labelExpr":"datum.value < 0 ? '-' + format(-datum.value, '.1f') : format(datum.value, '.1f')","title":"Discrimination Index","labelFontSize":8,"titleFontSize":10,"tickSize":3,"titlePadding":2}},
       "shape": {"field":"grp","type":"nominal","scale":{"domain":["Isoflurane/Vehicle","Isoflurane/Flutamide"],"range":["square","circle"]},"legend":null},
       "fill": {"field":"grp","type":"nominal","scale":{"domain":["Isoflurane/Vehicle","Isoflurane/Flutamide"],"range":["#8a2be2","#1f9d55"]},"legend":null}
      }},
     {"data": {"values": [{"z":0}]}, "mark": {"type":"rule","color":"black","strokeWidth":1,"strokeDash":[2,2]},
      "encoding": {"y":{"field":"z","type":"quantitative"}}},
     {"data": {"name":"hsum"}, "mark": {"type":"rule","strokeWidth":2},
      "encoding": {"x":{"field":"grp","type":"nominal"},"y":{"field":"lo","type":"quantitative"},"y2":{"field":"hi"},"color":{"field":"grp","type":"nominal","scale":{"domain":["Isoflurane/Vehicle","Isoflurane/Flutamide"],"range":["#9d5cff","#33b833"]},"legend":null}}},
     {"data": {"name":"hsum"}, "mark": {"type":"tick","orient":"horizontal","size":24,"thickness":2},
      "encoding": {"x":{"field":"grp","type":"nominal"},"y":{"field":"lo","type":"quantitative"},"color":{"field":"grp","type":"nominal","legend":null}}},
     {"data": {"name":"hsum"}, "mark": {"type":"tick","orient":"horizontal","size":24,"thickness":2},
      "encoding": {"x":{"field":"grp","type":"nominal"},"y":{"field":"hi","type":"quantitative"},"color":{"field":"grp","type":"nominal","legend":null}}},
     {"data": {"name":"hsum"}, "mark": {"type":"tick","orient":"horizontal","size":55,"thickness":2,"color":"black"},
      "encoding": {"x":{"field":"grp","type":"nominal"},"y":{"field":"mean","type":"quantitative"}}},
     {"data": {"name":"hsum"}, "mark": {"type":"text","fontSize":12,"baseline":"middle"},
      "encoding": {"x":{"field":"grp","type":"nominal"},"y":{"field":"sy","type":"quantitative"},"text":{"field":"sig"}}}
    ]
   },
   {"width": 45, "height": 1, "title": {"text":"I","fontSize":31,"anchor":"end","dx":-20,"offset":14}, "data": {"values": [{"k":0}]}, "mark": {"type":"text","text":" "}, "encoding": {}},
   {
    "width": 178, "height": 112,
    "title": {"text":["Object Place","Time"],"fontSize":15,"lineHeight":18,"offset":16,"dx":7},
    "layer": [
     {"data": {"name":"ibar"}, "mark": {"type":"bar","strokeWidth":3},
      "encoding": {
       "x": {"field":"grp","type":"nominal","scale":{"type":"band","domain":["Isoflurane/Vehicle","Isoflurane/Flutamide"],"paddingInner":0.216,"paddingOuter":0.1,"align":0.95},"axis":{"title":null,"ticks":false,"labelAngle":0,"labelOverlap":false,"labelFontSize":10,"labelLineHeight":13,"labelPadding":4,"labelOffset":-3,"labelExpr":"['Isoflurane/', substring(datum.label, 11)]"}},
       "xOffset": {"field":"obj","type":"nominal","scale":{"type":"band","domain":["Familiar object","Novel object"],"paddingInner":0.21,"paddingOuter":0}},
       "y": {"field":"mean","type":"quantitative","scale":{"domain":[0,42.3],"nice":false},"axis":{"values":[0,10,20,30,40],"tickCount":5,"labelOverlap":false,"labelBound":false,"title":"Time (Seconds)","labelFontSize":9.5,"titleFontSize":10.5,"tickSize":3,"titlePadding":3}},
       "fill": {"field":"obj","type":"nominal","scale":{"domain":["Familiar object","Novel object"],"range":["#ffffff","#6e6e6e"]},"legend":{"orient":"none","legendX":177,"legendY":9,"title":null,"symbolType":"square","symbolSize":50,"symbolStrokeColor":"black","symbolStrokeWidth":1.8,"labelFontSize":8,"labelOffset":2,"rowPadding":2,"clipHeight":10}},
       "stroke": {"field":"grp","type":"nominal","scale":{"domain":["Isoflurane/Vehicle","Isoflurane/Flutamide"],"range":["#a64dff","#22a022"]},"legend":null}
      }},
     {"data": {"name":"ibar"}, "mark": {"type":"rule","strokeWidth":2},
      "encoding": {"x":{"field":"grp","type":"nominal"},"xOffset":{"field":"obj","type":"nominal"},"y":{"field":"mean","type":"quantitative"},"y2":{"field":"hi"},"stroke":{"field":"grp","type":"nominal","legend":null}}},
     {"data": {"name":"ibar"}, "mark": {"type":"tick","orient":"horizontal","size":16,"thickness":2},
      "encoding": {"x":{"field":"grp","type":"nominal"},"xOffset":{"field":"obj","type":"nominal"},"y":{"field":"hi","type":"quantitative"},"color":{"field":"grp","type":"nominal","scale":{"domain":["Isoflurane/Vehicle","Isoflurane/Flutamide"],"range":["#a64dff","#22a022"]},"legend":null}}},
     {"data": {"name":"ileg"}, "mark": {"type":"rule","color":"#333333","strokeWidth":1.5},
      "encoding": {"x":{"field":"grp","type":"nominal"},"xOffset":{"field":"obj","type":"nominal"},"y":{"field":"lo","type":"quantitative"},"y2":{"field":"top"}}},
     {"data": {"name":"itop"}, "mark": {"type":"tick","orient":"horizontal","size":39.6,"thickness":1.5,"color":"#333333"},
      "encoding": {"x":{"field":"grp","type":"nominal"},"y":{"field":"top","type":"quantitative"}}},
     {"data": {"name":"itop"}, "mark": {"type":"text","fontSize":17,"fontWeight":"bold","baseline":"middle"},
      "encoding": {"x":{"field":"grp","type":"nominal"},"y":{"field":"sy","type":"quantitative"},"text":{"field":"sig"}}}
    ]
   },
   {"width": 101, "height": 1, "title": {"text":"J","fontSize":31,"anchor":"end","dx":-6,"offset":14}, "data": {"values": [{"k":0}]}, "mark": {"type":"text","text":" "}, "encoding": {}},
   {
    "width": 188, "height": 112,
    "title": {"text":["Object Place","Discrimination Index"],"fontSize":15,"lineHeight":18,"offset":14,"dx":6},
    "layer": [
     {"data": {"name":"jpts"}, "mark": {"type":"point","filled":true,"opacity":1,"size":45,"stroke":"black","strokeWidth":1.2},
      "encoding": {
       "x": {"field":"grp","type":"nominal","scale":{"type":"band","domain":["Isoflurane/Vehicle","Isoflurane/Flutamide"],"paddingInner":0,"paddingOuter":0.106,"align":0.75},"axis":{"title":null,"ticks":false,"labelAngle":0,"labelOverlap":false,"labelFontSize":10,"labelLineHeight":13,"labelPadding":4,"labelExpr":"['Isoflurane/', substring(datum.label, 11)]"}},
       "xOffset": {"field":"slot","type":"ordinal","scale":{"type":"point","domain":[-8,-7,-6,-5,-4,-3,-2,-1,0,1,2,3,4,5,6,7,8]}},
       "y": {"field":"v","type":"quantitative","scale":{"domain":[-0.5,1],"nice":false,"zero":false},"axis":{"values":[-0.5,0,0.5,1],"tickCount":4,"labelOverlap":false,"labelBound":false,"labelExpr":"datum.value < 0 ? '-' + format(-datum.value, '.1f') : format(datum.value, '.1f')","title":"Discrimination Index","labelFontSize":8,"titleFontSize":10,"tickSize":3,"titlePadding":2}},
       "shape": {"field":"grp","type":"nominal","scale":{"domain":["Isoflurane/Vehicle","Isoflurane/Flutamide"],"range":["square","circle"]},"legend":null},
       "fill": {"field":"grp","type":"nominal","scale":{"domain":["Isoflurane/Vehicle","Isoflurane/Flutamide"],"range":["#8a2be2","#1f9d55"]},"legend":null}
      }},
     {"data": {"values": [{"z":0}]}, "mark": {"type":"rule","color":"black","strokeWidth":1,"strokeDash":[2,2]},
      "encoding": {"y":{"field":"z","type":"quantitative"}}},
     {"data": {"name":"jsum"}, "mark": {"type":"rule","strokeWidth":2},
      "encoding": {"x":{"field":"grp","type":"nominal"},"y":{"field":"lo","type":"quantitative"},"y2":{"field":"hi"},"color":{"field":"grp","type":"nominal","scale":{"domain":["Isoflurane/Vehicle","Isoflurane/Flutamide"],"range":["#9d5cff","#33b833"]},"legend":null}}},
     {"data": {"name":"jsum"}, "mark": {"type":"tick","orient":"horizontal","size":30,"thickness":2},
      "encoding": {"x":{"field":"grp","type":"nominal"},"y":{"field":"lo","type":"quantitative"},"color":{"field":"grp","type":"nominal","legend":null}}},
     {"data": {"name":"jsum"}, "mark": {"type":"tick","orient":"horizontal","size":30,"thickness":2},
      "encoding": {"x":{"field":"grp","type":"nominal"},"y":{"field":"hi","type":"quantitative"},"color":{"field":"grp","type":"nominal","legend":null}}},
     {"data": {"name":"jsum"}, "mark": {"type":"tick","orient":"horizontal","size":55,"thickness":2,"color":"black"},
      "encoding": {"x":{"field":"grp","type":"nominal"},"y":{"field":"mean","type":"quantitative"}}},
     {"data": {"name":"jsum"}, "mark": {"type":"text","fontSize":16,"fontWeight":"bold","baseline":"middle"},
      "encoding": {"x":{"field":"grp","type":"nominal"},"y":{"field":"sy","type":"quantitative"},"text":{"field":"sig"}}}
    ]
   }
  ]
 }
]
}
